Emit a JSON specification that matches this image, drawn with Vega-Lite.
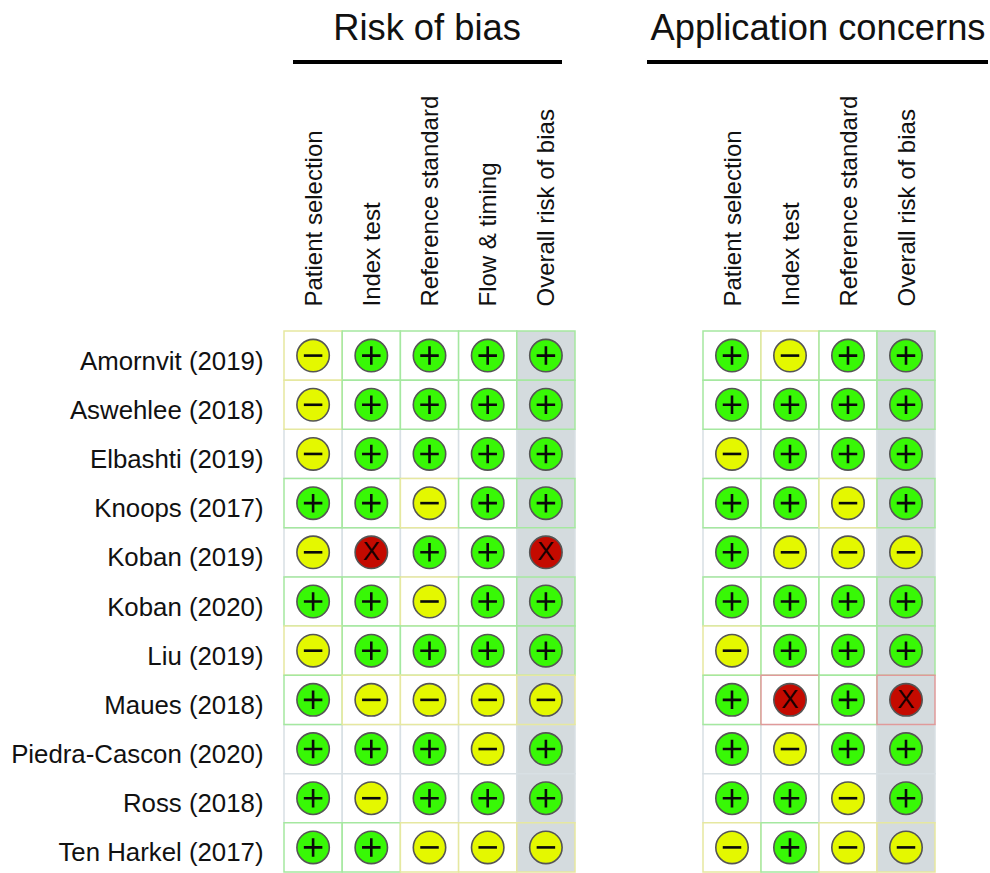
{
"$schema":"https://vega.github.io/schema/vega-lite/v6.json",
"background":"white",
"padding":{"left":10,"top":10,"right":0,"bottom":0},
"spacing":69,
"config":{"view":{"stroke":null},"font":"Liberation Sans","axis":{"grid":false,"ticks":false,"domain":false,"labelColor":"#111111","titleColor":"#111111","labelFont":"Liberation Sans","titleFont":"Liberation Sans"}},
"datasets":{"cells":[
{"study":"Amornvit (2019)","group":"Risk of bias","item":"Patient selection","rating":"some","outlined":true},
{"study":"Amornvit (2019)","group":"Risk of bias","item":"Index test","rating":"low","outlined":true},
{"study":"Amornvit (2019)","group":"Risk of bias","item":"Reference standard","rating":"low","outlined":true},
{"study":"Amornvit (2019)","group":"Risk of bias","item":"Flow & timing","rating":"low","outlined":true},
{"study":"Amornvit (2019)","group":"Risk of bias","item":"Overall risk of bias","rating":"low","outlined":true},
{"study":"Aswehlee (2018)","group":"Risk of bias","item":"Patient selection","rating":"some","outlined":true},
{"study":"Aswehlee (2018)","group":"Risk of bias","item":"Index test","rating":"low","outlined":true},
{"study":"Aswehlee (2018)","group":"Risk of bias","item":"Reference standard","rating":"low","outlined":true},
{"study":"Aswehlee (2018)","group":"Risk of bias","item":"Flow & timing","rating":"low","outlined":true},
{"study":"Aswehlee (2018)","group":"Risk of bias","item":"Overall risk of bias","rating":"low","outlined":true},
{"study":"Elbashti (2019)","group":"Risk of bias","item":"Patient selection","rating":"some","outlined":false},
{"study":"Elbashti (2019)","group":"Risk of bias","item":"Index test","rating":"low","outlined":false},
{"study":"Elbashti (2019)","group":"Risk of bias","item":"Reference standard","rating":"low","outlined":false},
{"study":"Elbashti (2019)","group":"Risk of bias","item":"Flow & timing","rating":"low","outlined":false},
{"study":"Elbashti (2019)","group":"Risk of bias","item":"Overall risk of bias","rating":"low","outlined":false},
{"study":"Knoops (2017)","group":"Risk of bias","item":"Patient selection","rating":"low","outlined":true},
{"study":"Knoops (2017)","group":"Risk of bias","item":"Index test","rating":"low","outlined":true},
{"study":"Knoops (2017)","group":"Risk of bias","item":"Reference standard","rating":"some","outlined":true},
{"study":"Knoops (2017)","group":"Risk of bias","item":"Flow & timing","rating":"low","outlined":true},
{"study":"Knoops (2017)","group":"Risk of bias","item":"Overall risk of bias","rating":"low","outlined":true},
{"study":"Koban (2019)","group":"Risk of bias","item":"Patient selection","rating":"some","outlined":false},
{"study":"Koban (2019)","group":"Risk of bias","item":"Index test","rating":"high","outlined":false},
{"study":"Koban (2019)","group":"Risk of bias","item":"Reference standard","rating":"low","outlined":false},
{"study":"Koban (2019)","group":"Risk of bias","item":"Flow & timing","rating":"low","outlined":false},
{"study":"Koban (2019)","group":"Risk of bias","item":"Overall risk of bias","rating":"high","outlined":false},
{"study":"Koban (2020)","group":"Risk of bias","item":"Patient selection","rating":"low","outlined":true},
{"study":"Koban (2020)","group":"Risk of bias","item":"Index test","rating":"low","outlined":true},
{"study":"Koban (2020)","group":"Risk of bias","item":"Reference standard","rating":"some","outlined":true},
{"study":"Koban (2020)","group":"Risk of bias","item":"Flow & timing","rating":"low","outlined":true},
{"study":"Koban (2020)","group":"Risk of bias","item":"Overall risk of bias","rating":"low","outlined":true},
{"study":"Liu (2019)","group":"Risk of bias","item":"Patient selection","rating":"some","outlined":true},
{"study":"Liu (2019)","group":"Risk of bias","item":"Index test","rating":"low","outlined":true},
{"study":"Liu (2019)","group":"Risk of bias","item":"Reference standard","rating":"low","outlined":true},
{"study":"Liu (2019)","group":"Risk of bias","item":"Flow & timing","rating":"low","outlined":true},
{"study":"Liu (2019)","group":"Risk of bias","item":"Overall risk of bias","rating":"low","outlined":true},
{"study":"Maues (2018)","group":"Risk of bias","item":"Patient selection","rating":"low","outlined":true},
{"study":"Maues (2018)","group":"Risk of bias","item":"Index test","rating":"some","outlined":true},
{"study":"Maues (2018)","group":"Risk of bias","item":"Reference standard","rating":"some","outlined":true},
{"study":"Maues (2018)","group":"Risk of bias","item":"Flow & timing","rating":"some","outlined":true},
{"study":"Maues (2018)","group":"Risk of bias","item":"Overall risk of bias","rating":"some","outlined":true},
{"study":"Piedra-Cascon (2020)","group":"Risk of bias","item":"Patient selection","rating":"low","outlined":false},
{"study":"Piedra-Cascon (2020)","group":"Risk of bias","item":"Index test","rating":"low","outlined":false},
{"study":"Piedra-Cascon (2020)","group":"Risk of bias","item":"Reference standard","rating":"low","outlined":false},
{"study":"Piedra-Cascon (2020)","group":"Risk of bias","item":"Flow & timing","rating":"some","outlined":false},
{"study":"Piedra-Cascon (2020)","group":"Risk of bias","item":"Overall risk of bias","rating":"low","outlined":false},
{"study":"Ross (2018)","group":"Risk of bias","item":"Patient selection","rating":"low","outlined":false},
{"study":"Ross (2018)","group":"Risk of bias","item":"Index test","rating":"some","outlined":false},
{"study":"Ross (2018)","group":"Risk of bias","item":"Reference standard","rating":"low","outlined":false},
{"study":"Ross (2018)","group":"Risk of bias","item":"Flow & timing","rating":"low","outlined":false},
{"study":"Ross (2018)","group":"Risk of bias","item":"Overall risk of bias","rating":"low","outlined":false},
{"study":"Ten Harkel (2017)","group":"Risk of bias","item":"Patient selection","rating":"low","outlined":true},
{"study":"Ten Harkel (2017)","group":"Risk of bias","item":"Index test","rating":"low","outlined":true},
{"study":"Ten Harkel (2017)","group":"Risk of bias","item":"Reference standard","rating":"some","outlined":true},
{"study":"Ten Harkel (2017)","group":"Risk of bias","item":"Flow & timing","rating":"some","outlined":true},
{"study":"Ten Harkel (2017)","group":"Risk of bias","item":"Overall risk of bias","rating":"some","outlined":true},
{"study":"Amornvit (2019)","group":"Application concerns","item":"Patient selection","rating":"low","outlined":true},
{"study":"Amornvit (2019)","group":"Application concerns","item":"Index test","rating":"some","outlined":true},
{"study":"Amornvit (2019)","group":"Application concerns","item":"Reference standard","rating":"low","outlined":true},
{"study":"Amornvit (2019)","group":"Application concerns","item":"Overall risk of bias","rating":"low","outlined":true},
{"study":"Aswehlee (2018)","group":"Application concerns","item":"Patient selection","rating":"low","outlined":true},
{"study":"Aswehlee (2018)","group":"Application concerns","item":"Index test","rating":"low","outlined":true},
{"study":"Aswehlee (2018)","group":"Application concerns","item":"Reference standard","rating":"low","outlined":true},
{"study":"Aswehlee (2018)","group":"Application concerns","item":"Overall risk of bias","rating":"low","outlined":true},
{"study":"Elbashti (2019)","group":"Application concerns","item":"Patient selection","rating":"some","outlined":false},
{"study":"Elbashti (2019)","group":"Application concerns","item":"Index test","rating":"low","outlined":false},
{"study":"Elbashti (2019)","group":"Application concerns","item":"Reference standard","rating":"low","outlined":false},
{"study":"Elbashti (2019)","group":"Application concerns","item":"Overall risk of bias","rating":"low","outlined":false},
{"study":"Knoops (2017)","group":"Application concerns","item":"Patient selection","rating":"low","outlined":true},
{"study":"Knoops (2017)","group":"Application concerns","item":"Index test","rating":"low","outlined":true},
{"study":"Knoops (2017)","group":"Application concerns","item":"Reference standard","rating":"some","outlined":true},
{"study":"Knoops (2017)","group":"Application concerns","item":"Overall risk of bias","rating":"low","outlined":true},
{"study":"Koban (2019)","group":"Application concerns","item":"Patient selection","rating":"low","outlined":false},
{"study":"Koban (2019)","group":"Application concerns","item":"Index test","rating":"some","outlined":false},
{"study":"Koban (2019)","group":"Application concerns","item":"Reference standard","rating":"some","outlined":false},
{"study":"Koban (2019)","group":"Application concerns","item":"Overall risk of bias","rating":"some","outlined":false},
{"study":"Koban (2020)","group":"Application concerns","item":"Patient selection","rating":"low","outlined":true},
{"study":"Koban (2020)","group":"Application concerns","item":"Index test","rating":"low","outlined":true},
{"study":"Koban (2020)","group":"Application concerns","item":"Reference standard","rating":"low","outlined":true},
{"study":"Koban (2020)","group":"Application concerns","item":"Overall risk of bias","rating":"low","outlined":true},
{"study":"Liu (2019)","group":"Application concerns","item":"Patient selection","rating":"some","outlined":true},
{"study":"Liu (2019)","group":"Application concerns","item":"Index test","rating":"low","outlined":true},
{"study":"Liu (2019)","group":"Application concerns","item":"Reference standard","rating":"low","outlined":true},
{"study":"Liu (2019)","group":"Application concerns","item":"Overall risk of bias","rating":"low","outlined":true},
{"study":"Maues (2018)","group":"Application concerns","item":"Patient selection","rating":"low","outlined":true},
{"study":"Maues (2018)","group":"Application concerns","item":"Index test","rating":"high","outlined":true},
{"study":"Maues (2018)","group":"Application concerns","item":"Reference standard","rating":"low","outlined":true},
{"study":"Maues (2018)","group":"Application concerns","item":"Overall risk of bias","rating":"high","outlined":true},
{"study":"Piedra-Cascon (2020)","group":"Application concerns","item":"Patient selection","rating":"low","outlined":false},
{"study":"Piedra-Cascon (2020)","group":"Application concerns","item":"Index test","rating":"some","outlined":false},
{"study":"Piedra-Cascon (2020)","group":"Application concerns","item":"Reference standard","rating":"low","outlined":false},
{"study":"Piedra-Cascon (2020)","group":"Application concerns","item":"Overall risk of bias","rating":"low","outlined":false},
{"study":"Ross (2018)","group":"Application concerns","item":"Patient selection","rating":"low","outlined":false},
{"study":"Ross (2018)","group":"Application concerns","item":"Index test","rating":"low","outlined":false},
{"study":"Ross (2018)","group":"Application concerns","item":"Reference standard","rating":"some","outlined":false},
{"study":"Ross (2018)","group":"Application concerns","item":"Overall risk of bias","rating":"low","outlined":false},
{"study":"Ten Harkel (2017)","group":"Application concerns","item":"Patient selection","rating":"some","outlined":true},
{"study":"Ten Harkel (2017)","group":"Application concerns","item":"Index test","rating":"low","outlined":true},
{"study":"Ten Harkel (2017)","group":"Application concerns","item":"Reference standard","rating":"some","outlined":true},
{"study":"Ten Harkel (2017)","group":"Application concerns","item":"Overall risk of bias","rating":"some","outlined":true}
]},
"hconcat":[
{"width":291,"height":541,
"layer":[
{"data":{"name":"cells"},"transform":[{"filter":"datum.group === 'Risk of bias'"}],
"encoding":{
"x":{"field":"item","type":"nominal","sort":null,"scale":{"domain":["Patient selection","Index test","Reference standard","Flow & timing","Overall risk of bias"],"paddingInner":0,"paddingOuter":0},
"axis":{"orient":"top","labelAngle":-90,"labelAlign":"left","labelBaseline":"middle","labelOffset":1.5,"labelPadding":25,"labelFontSize":24,"labelLimit":300,"title":"Risk of bias","titleFontSize":36.3,"titleFontWeight":"normal","titlePadding":84,"titleX":142.5}},
"y":{"field":"study","type":"nominal","sort":null,"scale":{"domain":["Amornvit (2019)","Aswehlee (2018)","Elbashti (2019)","Knoops (2017)","Koban (2019)","Koban (2020)","Liu (2019)","Maues (2018)","Piedra-Cascon (2020)","Ross (2018)","Ten Harkel (2017)"],"paddingInner":0,"paddingOuter":0},
"axis":{"title":null,"labelFontSize":25.8,"labelPadding":21,"labelOffset":6,"labelLimit":300,"minExtent":273,"maxExtent":273}}},
"layer":[
{"transform":[{"filter":"!datum.outlined"}],"mark":{"type":"rect","stroke":"#d8e0e4","strokeWidth":1.5},"encoding":{"fill":{"condition":{"test":"datum.item === 'Overall risk of bias'","value":"#d4dbde"},"value":"#ffffff"}}},
{"transform":[{"filter":"datum.outlined"}],"mark":{"type":"rect","strokeWidth":1.5},"encoding":{"fill":{"condition":{"test":"datum.item === 'Overall risk of bias'","value":"#d4dbde"},"value":"#ffffff"},"stroke":{"field":"rating","type":"nominal","legend":null,"scale":{"domain":["low","some","high"],"range":["#a5e8a0","#e6e8a0","#e09a9a"]}}}},
{"mark":{"type":"point","shape":"circle","filled":true,"opacity":1,"size":1050,"stroke":"#555555","strokeWidth":1.6},"encoding":{"fill":{"field":"rating","type":"nominal","legend":null,"scale":{"domain":["low","some","high"],"range":["#38f806","#e4f800","#c40a00"]}}}},
{"transform":[{"filter":"datum.rating !== 'high'"}],"mark":{"type":"point","filled":false,"opacity":1,"size":342,"stroke":"#0a0a0a","strokeWidth":2.6},"encoding":{"shape":{"field":"rating","type":"nominal","legend":null,"scale":{"domain":["low","some"],"range":["M-1,0H1M0,-1V1","M-1,0H1"]}}}},
{"transform":[{"filter":"datum.rating === 'high'"}],"mark":{"type":"text","text":"X","fontSize":26,"font":"Liberation Sans","color":"#1a0000","baseline":"middle","align":"center"}}
]},
{"data":{"values":[{"group":"Risk of bias"}]},"mark":{"type":"rule","color":"#000000","strokeWidth":3.8},
"encoding":{"x":{"datum":0,"type":"quantitative","scale":{"domain":[0,1],"range":[9,278]},"axis":null},"x2":{"datum":1},"y":{"datum":1,"type":"quantitative","scale":{"domain":[0,1],"range":[541,-269]},"axis":null}}}
],"resolve":{"scale":{"x":"independent","y":"independent"},"axis":{"x":"independent","y":"independent"}}},
{"width":232,"height":541,
"layer":[
{"data":{"name":"cells"},"transform":[{"filter":"datum.group === 'Application concerns'"}],
"encoding":{
"x":{"field":"item","type":"nominal","sort":null,"scale":{"domain":["Patient selection","Index test","Reference standard","Overall risk of bias"],"paddingInner":0,"paddingOuter":0},
"axis":{"orient":"top","labelAngle":-90,"labelAlign":"left","labelBaseline":"middle","labelOffset":1.5,"labelPadding":25,"labelFontSize":24,"labelLimit":300,"title":"Application concerns","titleFontSize":36.3,"titleFontWeight":"normal","titlePadding":84,"titleX":114.5}},
"y":{"field":"study","type":"nominal","sort":null,"scale":{"domain":["Amornvit (2019)","Aswehlee (2018)","Elbashti (2019)","Knoops (2017)","Koban (2019)","Koban (2020)","Liu (2019)","Maues (2018)","Piedra-Cascon (2020)","Ross (2018)","Ten Harkel (2017)"],"paddingInner":0,"paddingOuter":0},"axis":null}},
"layer":[
{"transform":[{"filter":"!datum.outlined"}],"mark":{"type":"rect","stroke":"#d8e0e4","strokeWidth":1.5},"encoding":{"fill":{"condition":{"test":"datum.item === 'Overall risk of bias'","value":"#d4dbde"},"value":"#ffffff"}}},
{"transform":[{"filter":"datum.outlined"}],"mark":{"type":"rect","strokeWidth":1.5},"encoding":{"fill":{"condition":{"test":"datum.item === 'Overall risk of bias'","value":"#d4dbde"},"value":"#ffffff"},"stroke":{"field":"rating","type":"nominal","legend":null,"scale":{"domain":["low","some","high"],"range":["#a5e8a0","#e6e8a0","#e09a9a"]}}}},
{"mark":{"type":"point","shape":"circle","filled":true,"opacity":1,"size":1050,"stroke":"#555555","strokeWidth":1.6},"encoding":{"fill":{"field":"rating","type":"nominal","legend":null,"scale":{"domain":["low","some","high"],"range":["#38f806","#e4f800","#c40a00"]}}}},
{"transform":[{"filter":"datum.rating !== 'high'"}],"mark":{"type":"point","filled":false,"opacity":1,"size":342,"stroke":"#0a0a0a","strokeWidth":2.6},"encoding":{"shape":{"field":"rating","type":"nominal","legend":null,"scale":{"domain":["low","some"],"range":["M-1,0H1M0,-1V1","M-1,0H1"]}}}},
{"transform":[{"filter":"datum.rating === 'high'"}],"mark":{"type":"text","text":"X","fontSize":26,"font":"Liberation Sans","color":"#1a0000","baseline":"middle","align":"center"}}
]},
{"data":{"values":[{"group":"Application concerns"}]},"mark":{"type":"rule","color":"#000000","strokeWidth":3.8},
"encoding":{"x":{"datum":0,"type":"quantitative","scale":{"domain":[0,1],"range":[-56,285]},"axis":null},"x2":{"datum":1},"y":{"datum":1,"type":"quantitative","scale":{"domain":[0,1],"range":[541,-269]},"axis":null}}}
],"resolve":{"scale":{"x":"independent","y":"independent"},"axis":{"x":"independent","y":"independent"}}}
]
}
